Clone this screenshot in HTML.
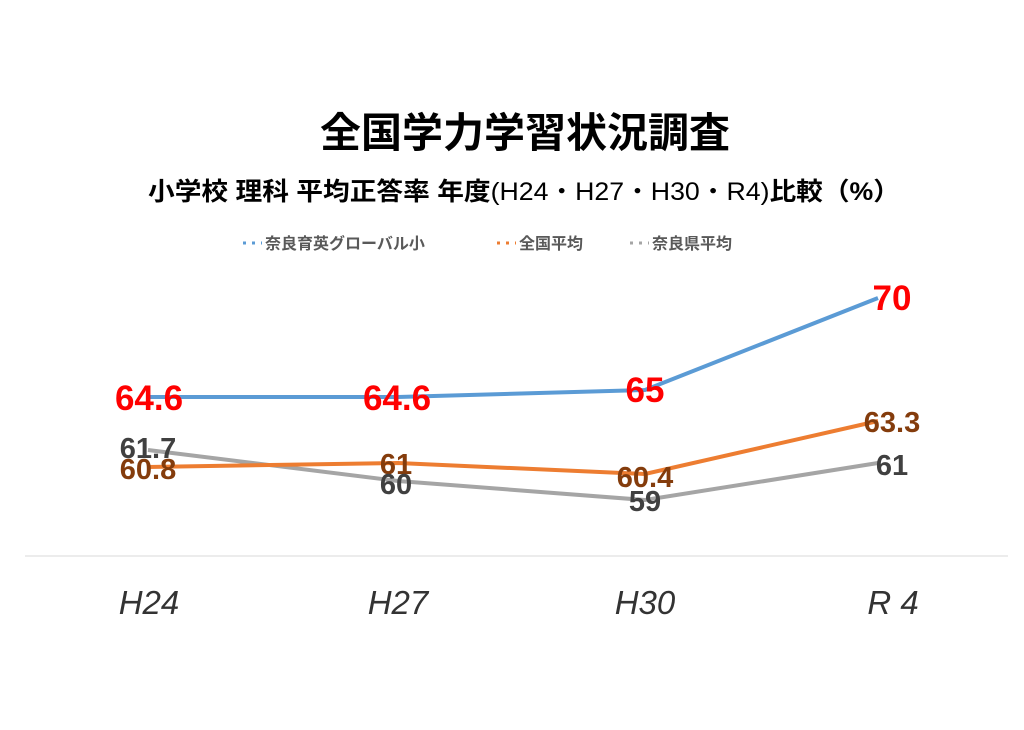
<!DOCTYPE html>
<html><head><meta charset="utf-8"><style>
body{margin:0;background:#fff;}
svg text{font-family:"Liberation Sans","Noto Sans CJK JP",sans-serif;}
</style></head><body>
<svg width="1024" height="725" viewBox="0 0 1024 725" xmlns="http://www.w3.org/2000/svg">
<rect width="1024" height="725" fill="#fff"/>
<text x="525" y="147" font-size="41" font-weight="bold" text-anchor="middle" fill="#000">全国学力学習状況調査</text>
<text x="524" y="200" font-size="25" font-weight="bold" text-anchor="middle" fill="#000" textLength="752" lengthAdjust="spacingAndGlyphs">小学校 理科 平均正答率 年度<tspan font-weight="normal">(H24・H27・H30・R4)</tspan>比較（%）</text>
<g font-size="16" font-weight="bold" fill="#595959">
<line x1="243" y1="243" x2="262" y2="243" stroke="#5b9bd5" stroke-width="3" stroke-dasharray="3,6"/>
<text x="265" y="249">奈良育英グローバル小</text>
<line x1="497" y1="243" x2="516" y2="243" stroke="#ed7d31" stroke-width="3" stroke-dasharray="3,6"/>
<text x="519" y="249">全国平均</text>
<line x1="630" y1="243" x2="649" y2="243" stroke="#a5a5a5" stroke-width="3" stroke-dasharray="3,6"/>
<text x="652" y="249">奈良県平均</text>
</g>
<line x1="25" y1="556" x2="1008" y2="556" stroke="#d9d9d9" stroke-width="1"/>
<polyline points="148,450 398,481 645,500 878,463" fill="none" stroke="#a5a5a5" stroke-width="4"/>
<polyline points="148,467 398,463 645,474 878,421" fill="none" stroke="#ed7d31" stroke-width="4"/>
<polyline points="148,397 398,397 645,390 878,298" fill="none" stroke="#5b9bd5" stroke-width="4"/>
<g font-size="35" font-weight="bold" fill="#ff0000" text-anchor="middle">
<text x="149" y="410">64.6</text>
<text x="397" y="410">64.6</text>
<text x="645" y="402">65</text>
<text x="892" y="310">70</text>
</g>
<g font-size="29" font-weight="bold" fill="#843c0c" text-anchor="middle">
<text x="148" y="479">60.8</text>
<text x="396" y="474">61</text>
<text x="645" y="487">60.4</text>
<text x="892" y="432">63.3</text>
</g>
<g font-size="29" font-weight="bold" fill="#404040" text-anchor="middle">
<text x="148" y="458">61.7</text>
<text x="396" y="494">60</text>
<text x="645" y="511">59</text>
<text x="892" y="475">61</text>
</g>
<g font-size="33" font-style="italic" fill="#333" text-anchor="middle">
<text x="149" y="614">H24</text>
<text x="398" y="614">H27</text>
<text x="645" y="614">H30</text>
<text x="893" y="614">R 4</text>
</g>
</svg>
</body></html>
